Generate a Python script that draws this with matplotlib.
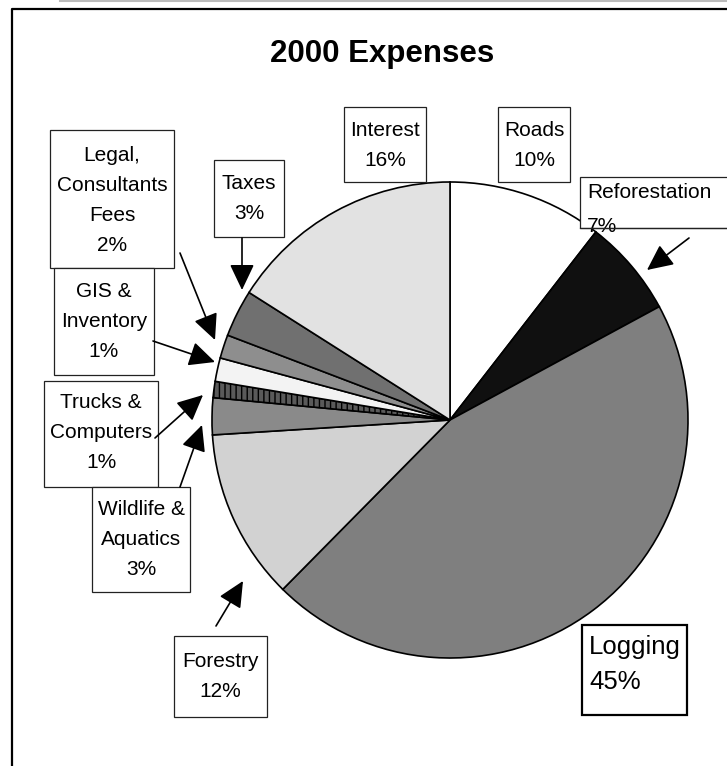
import matplotlib
matplotlib.use("Agg")
import matplotlib.pyplot as plt
from matplotlib.patches import Rectangle

W, H = 727, 766

# slices clockwise from 12 o'clock
categories = ["Roads", "Reforestation", "Logging", "Forestry", "Wildlife & Aquatics",
              "Trucks & Computers", "GIS & Inventory", "Legal, Consultants Fees",
              "Taxes", "Interest"]
shares = [10.5, 6.6, 45.3, 11.6, 2.5, 1.1, 1.6, 1.6, 3.2, 16.0]
pct_labels = ["10%", "7%", "45%", "12%", "3%", "1%", "1%", "2%", "3%", "16%"]

colors = ["#ffffff", "#101010", "#7f7f7f", "#d2d2d2", "#8a8a8a",
          "#5a5a5a", "#f3f3f3", "#8e8e8e", "#707070", "#e2e2e2"]
hatches = [None, None, None, None, None, "|||", None, None, None, None]

plt.rcParams["font.family"] = ["Liberation Sans", "DejaVu Sans"]

fig = plt.figure(figsize=(W / 100, H / 100), dpi=100)
ax = fig.add_axes([0, 0, 1, 1])


def Y(py):
    # pixel row (from top) -> data y
    return H - py


wedges, _ = ax.pie(shares, colors=colors, startangle=90, counterclock=False,
                   center=(450, Y(420)), radius=238,
                   wedgeprops=dict(edgecolor="black", linewidth=1.2))
for w, h in zip(wedges, hatches):
    if h:
        w.set_hatch(h)

ax.set_xlim(0, W)
ax.set_ylim(0, H)
ax.set_aspect("equal")
ax.axis("off")

# outer frame and the grey line above it
ax.plot([12, 12, W], [0, Y(9), Y(9)], color="black", lw=1.6, solid_capstyle="butt")
ax.plot([60, W], [Y(1), Y(1)], color="#bbbbbb", lw=1.5)

ax.text(382, Y(54), "2000 Expenses", ha="center", va="center",
        fontsize=22.5, fontweight="bold")

# label boxes: (box x0, y0, x1, y1), text x, align, first baseline, line step, lines
label_fs = 15
boxes = {
    "Interest": ((344, 107, 426, 182), 385, "center", 136, 30, ["Interest", pct_labels[9]]),
    "Roads": ((498, 107, 570, 182), 534, "center", 136, 30, ["Roads", pct_labels[0]]),
    "Reforestation": ((580, 177, 740, 228), 587, "left", 198, 34, ["Reforestation", pct_labels[1]]),
    "Taxes": ((214, 160, 284, 237), 249, "center", 189, 30, ["Taxes", pct_labels[8]]),
    "Legal": ((50, 130, 174, 268), 112, "center", 161, 30, ["Legal,", "Consultants", "Fees", pct_labels[7]]),
    "GIS": ((54, 268, 154, 375), 104, "center", 297, 30, ["GIS &", "Inventory", pct_labels[6]]),
    "Trucks": ((44, 381, 158, 487), 101, "center", 408, 30, ["Trucks &", "Computers", pct_labels[5]]),
    "Wildlife": ((92, 487, 190, 592), 141, "center", 515, 30, ["Wildlife &", "Aquatics", pct_labels[4]]),
    "Forestry": ((174, 636, 267, 717), 220, "center", 667, 30, ["Forestry", pct_labels[3]]),
}

for key, (bx, tx, align, base, step, lines) in boxes.items():
    x0, y0, x1, y1 = bx
    ax.add_patch(Rectangle((x0, Y(y1)), x1 - x0, y1 - y0, facecolor="white",
                           edgecolor="#222222", lw=0.9, zorder=3))
    for i, line in enumerate(lines):
        ax.text(tx, Y(base + i * step), line, ha=align, va="baseline",
                fontsize=label_fs, zorder=4)

# the reforestation box's bottom edge runs through the "7%"
ax.plot([580, 727], [Y(228), Y(228)], color="#222222", lw=0.9, zorder=4.5)

# logging label has a bigger font and heavier box
ax.add_patch(Rectangle((582, Y(715)), 105, 90, facecolor="white",
                       edgecolor="black", lw=1.6, zorder=3))
ax.text(589, Y(654), "Logging", ha="left", va="baseline", fontsize=18.5, zorder=4)
ax.text(589, Y(689), pct_labels[2], ha="left", va="baseline", fontsize=18.5, zorder=4)

# arrows: (tail, tip) in pixels
arrows = [
    ((689, 238), (647, 270)),   # reforestation
    ((242, 238), (242, 290)),   # taxes
    ((180, 253), (215, 340)),   # legal
    ((153, 341), (215, 362)),   # gis
    ((155, 438), (203, 395)),   # trucks
    ((180, 487), (202, 425)),   # wildlife
    ((216, 626), (243, 581)),   # forestry
]
for (x0, y0), (x1, y1) in arrows:
    ax.annotate("", xy=(x1, Y(y1)), xytext=(x0, Y(y0)),
                arrowprops=dict(arrowstyle="-|>,head_length=0.8,head_width=0.38",
                                mutation_scale=20, color="black", lw=1.2,
                                shrinkA=0, shrinkB=0), zorder=5)

fig.savefig("out.png", dpi=100)
